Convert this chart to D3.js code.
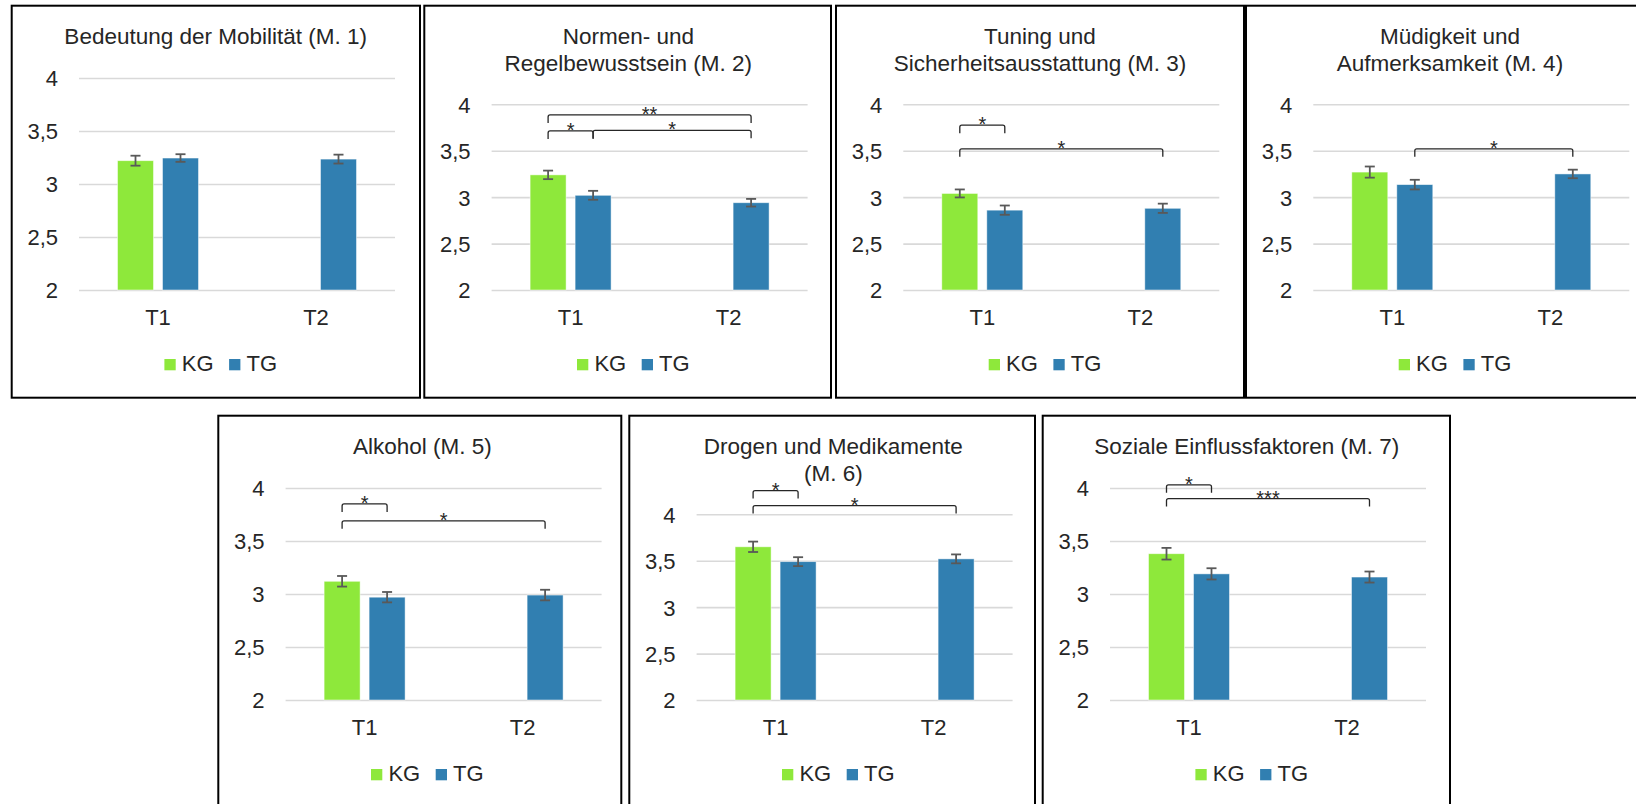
<!DOCTYPE html>
<html>
<head>
<meta charset="utf-8">
<script src="https://cdnjs.cloudflare.com/ajax/libs/d3/7.8.5/d3.min.js"></script>
<style>
body{margin:0;background:#fff;}
svg text{font-family:"Liberation Sans",Arial,sans-serif;fill:#262626;}
</style>
</head>
<body>
<svg></svg>
<script>
// data
var titles = [
	['Bedeutung der Mobilität (M. 1)'],
	['Normen- und','Regelbewusstsein (M. 2)'],
	['Tuning und','Sicherheitsausstattung (M. 3)'],
	['Müdigkeit und','Aufmerksamkeit (M. 4)'],
	['Alkohol (M. 5)'],
	['Drogen und Medikamente','(M. 6)'],
	['Soziale Einflussfaktoren (M. 7)']
];
var timepoints = ['T1','T2'];
var groups = ['KG','TG'];
var yTicks = [2,2.5,3,3.5,4];

var kgT1    = [3.22, 3.24, 3.04, 3.27, 3.12, 3.65, 3.38];
var kgT1Err = [0.047,0.046,0.043,0.06, 0.05, 0.056,0.055];
var tgT1    = [3.245,3.02, 2.86, 3.135,2.97, 3.49, 3.19];
var tgT1Err = [0.036,0.048,0.05, 0.052,0.049,0.048,0.053];
var tgT2    = [3.235,2.94, 2.88, 3.25, 2.99, 3.52, 3.16];
var tgT2Err = [0.042,0.041,0.05, 0.046,0.05, 0.048,0.052];

// significance brackets: from bar, to bar, level (scale units), label
var brackets = [
	[],
	[{a:'T1-KG',b:'T2-TG',level:3.886,label:'**'},{a:'T1-KG',b:'T1-TG',level:3.713,label:'*'},{a:'T1-TG',b:'T2-TG',level:3.72,label:'*'}],
	[{a:'T1-KG',b:'T1-TG',level:3.775,label:'*'},{a:'T1-KG',b:'T2-TG',level:3.52,label:'*'}],
	[{a:'T1-TG',b:'T2-TG',level:3.52,label:'*'}],
	[{a:'T1-KG',b:'T1-TG',level:3.85,label:'*'},{a:'T1-KG',b:'T2-TG',level:3.69,label:'*'}],
	[{a:'T1-KG',b:'T1-TG',level:4.255,label:'*'},{a:'T1-KG',b:'T2-TG',level:4.094,label:'*'}],
	[{a:'T1-KG',b:'T1-TG',level:4.03,label:'*'},{a:'T1-KG',b:'T2-TG',level:3.90,label:'***'}]
];

var colors = {KG:'#8ee83b', TG:'#317fb1'};

var svgwidth = 1636, svgheight = 804;
var svg = d3.select('svg').attr('width',svgwidth).attr('height',svgheight);

// panel frames
var panels = [
	{x:11.7,  y:5.7,   w:408.3},
	{x:424.3, y:5.7,   w:406.7},
	{x:836,   y:5.7,   w:408},
	{x:1246,  y:5.7,   w:407},
	{x:218.3, y:415.7, w:403},
	{x:629.3, y:415.7, w:405.7},
	{x:1042.7,y:415.7, w:407.3}
];
var frameH = 392;

var plot = {left:67.3, width:316, bottom:284.3};

var locale = d3.formatLocale({decimal:',', thousands:'.', grouping:[3], currency:['','€']});
var fmt = locale.format('.1~f');

panels.forEach(function(p,i){

	var g = svg.append('g').attr('transform','translate('+p.x+','+p.y+')');

	g.append('rect')
		.attr('x',0).attr('y',0)
		.attr('width',p.w).attr('height',frameH)
		.attr('fill','#fff')
		.attr('stroke','#000')
		.attr('stroke-width',2);

	var lines = titles[i];
	g.selectAll('.title').data(lines).enter().append('text')
		.attr('x',204)
		.attr('y',function(d,k){ return 38.3 + k*26.7;})
		.attr('text-anchor','middle')
		.style('font-size','22.5px')
		.text(function(d){ return d;});

	var top = lines.length > 1 ? 98.6 : 72.3;

	var y = d3.scaleLinear().domain([2,4]).range([plot.bottom, top]);
	var x0 = d3.scaleBand().domain(timepoints).range([0, plot.width]);
	var groupW = 81;
	var x1 = d3.scaleBand().domain(groups).range([0, groupW]).paddingInner(0.2);
	var off = (x0.bandwidth() - groupW)/2;

	var pg = g.append('g').attr('transform','translate('+plot.left+',0)');

	// gridlines + y labels
	var yAxis = pg.append('g')
		.call(d3.axisLeft(y).tickValues(yTicks).tickSize(-plot.width).tickPadding(21).tickFormat(fmt));
	yAxis.select('.domain').remove();
	yAxis.selectAll('line').attr('stroke','#d9d9d9').attr('stroke-width',1.6);
	yAxis.selectAll('text')
		.style('font-size','22px')
		.style('font-family','"Liberation Sans",Arial,sans-serif')
		.attr('fill','#262626')
		.attr('dy','0.36em');

	var xAxis = pg.append('g').attr('transform','translate(0,'+plot.bottom+')')
		.call(d3.axisBottom(x0).tickSize(0));
	xAxis.select('.domain').remove();
	xAxis.selectAll('text')
		.style('font-size','22px')
		.style('font-family','"Liberation Sans",Arial,sans-serif')
		.attr('fill','#262626')
		.attr('y',35).attr('dy',0);

	var bars = [
		{key:'T1-KG', t:'T1', grp:'KG', v:kgT1[i], e:kgT1Err[i]},
		{key:'T1-TG', t:'T1', grp:'TG', v:tgT1[i], e:tgT1Err[i]},
		{key:'T2-TG', t:'T2', grp:'TG', v:tgT2[i], e:tgT2Err[i]}
	];
	var cx = {};
	bars.forEach(function(b){ cx[b.key] = x0(b.t) + off + x1(b.grp) + x1.bandwidth()/2; });

	pg.selectAll('.bar').data(bars).enter().append('rect')
		.attr('x',function(d){ return x0(d.t) + off + x1(d.grp);})
		.attr('y',function(d){ return y(d.v);})
		.attr('width',x1.bandwidth())
		.attr('height',function(d){ return y(2) - y(d.v);})
		.attr('fill',function(d){ return colors[d.grp];})
		.attr('stroke','#ffffff')
		.attr('stroke-opacity',0.6)
		.attr('stroke-width',0.8);

	// error bars
	var eb = pg.selectAll('.err').data(bars).enter().append('g')
		.attr('stroke','#595959').attr('stroke-width',1.8);
	eb.append('line')
		.attr('x1',function(d){ return cx[d.key];}).attr('x2',function(d){ return cx[d.key];})
		.attr('y1',function(d){ return y(d.v + d.e);}).attr('y2',function(d){ return y(d.v - d.e);});
	eb.append('line')
		.attr('x1',function(d){ return cx[d.key]-5;}).attr('x2',function(d){ return cx[d.key]+5;})
		.attr('y1',function(d){ return y(d.v + d.e);}).attr('y2',function(d){ return y(d.v + d.e);});
	eb.append('line')
		.attr('x1',function(d){ return cx[d.key]-5;}).attr('x2',function(d){ return cx[d.key]+5;})
		.attr('y1',function(d){ return y(d.v - d.e);}).attr('y2',function(d){ return y(d.v - d.e);});

	// significance brackets
	var leg = 8, r = 2;
	pg.selectAll('.brk').data(brackets[i]).enter().append('path')
		.attr('d',function(d){
			var xa = cx[d.a], xb = cx[d.b], yt = y(d.level);
			return 'M'+xa+','+(yt+leg)+' L'+xa+','+(yt+r)+' Q'+xa+','+yt+' '+(xa+r)+','+yt+
				' L'+(xb-r)+','+yt+' Q'+xb+','+yt+' '+xb+','+(yt+r)+' L'+xb+','+(yt+leg);
		})
		.attr('fill','none')
		.attr('stroke','#262626')
		.attr('stroke-width',1.3);

	pg.selectAll('.star').data(brackets[i]).enter().append('text')
		.attr('x',function(d){ return (cx[d.a]+cx[d.b])/2;})
		.attr('y',function(d){ return y(d.level) + 6;})
		.attr('text-anchor','middle')
		.style('font-size','20px')
		.text(function(d){ return d.label;});

	// legend
	var lx = 152.7;
	groups.forEach(function(gname){
		g.append('rect')
			.attr('x',lx).attr('y',353.3)
			.attr('width',11.3).attr('height',11.3)
			.attr('fill',colors[gname]);
		var t = g.append('text')
			.attr('x',lx+17.4).attr('y',365.3)
			.style('font-size','22px')
			.text(gname);
		lx = lx + 17.4 + t.node().getComputedTextLength() + 15.5;
	});
});
</script>
</body>
</html>
